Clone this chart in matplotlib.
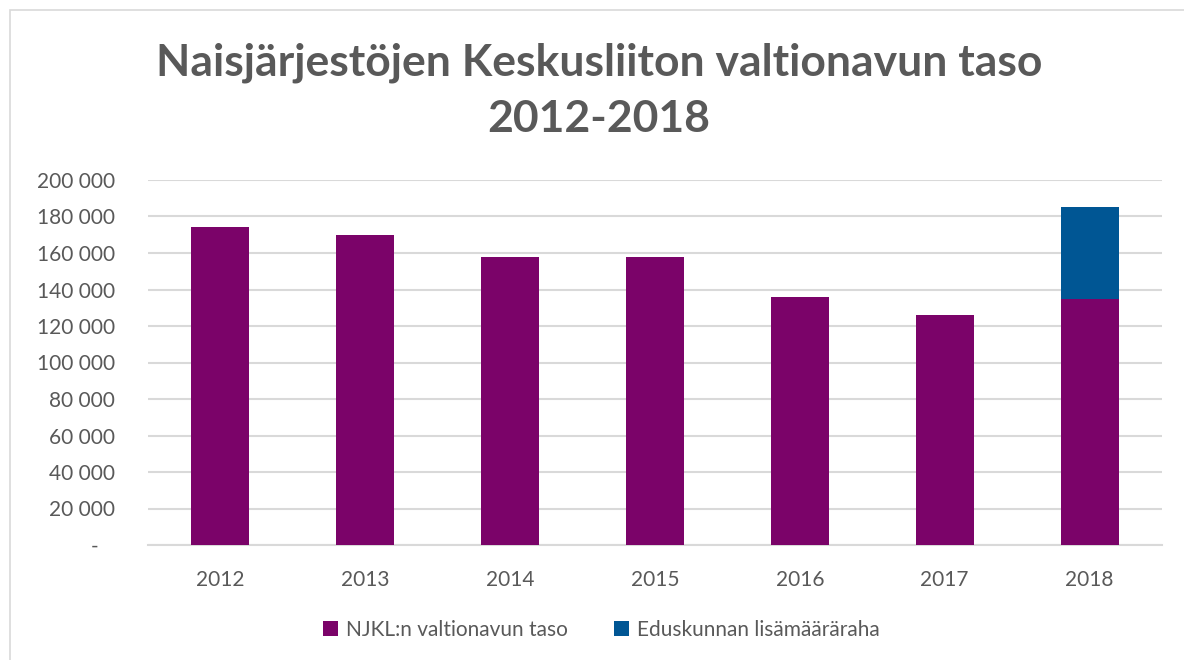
import matplotlib.pyplot as plt
from matplotlib.patches import Rectangle
from matplotlib.ticker import FuncFormatter
import numpy as np

# data
years = ["2012", "2013", "2014", "2015", "2016", "2017", "2018"]
njkl = [174000, 170000, 158000, 158000, 136000, 126000, 135000]
lisa = [0, 0, 0, 0, 0, 0, 50000]
labels = ["NJKL:n valtionavun taso", "Eduskunnan lisämääräraha"]

purple = "#7B0369"
blue = "#005694"
gray_txt = "#595959"

plt.rcParams['font.family'] = ['Lato', 'DejaVu Sans']

fig = plt.figure(figsize=(11.84, 6.6), dpi=100)
# outer chart border
fig.patches.append(Rectangle((10 / 1184, -0.1), 1.2, 1 - 10 / 660 + 0.1,
                             transform=fig.transFigure, fill=False,
                             edgecolor="#d9d9d9", linewidth=1.2))

ax = fig.add_axes([148 / 1184, 1 - 545 / 660, (1162 - 148) / 1184, 365 / 660])
x = np.arange(len(years))
ax.bar(x, njkl, width=0.4, color=purple, label=labels[0], zorder=3)
ax.bar(x, lisa, width=0.4, bottom=njkl, color=blue, label=labels[1], zorder=3)

ax.set_xlim(-0.5, len(years) - 0.5)
ax.set_ylim(0, 200000)
ax.set_yticks(np.arange(0, 200001, 20000))


def fmt(v, pos):
    # accounting style: zero shown as a dash
    if v == 0:
        return "-   "
    return f"{int(v):,}".replace(",", " ")


ax.yaxis.set_major_formatter(FuncFormatter(fmt))
ax.set_xticks(x)
ax.set_xticklabels(years)
ax.tick_params(axis="both", length=0, labelsize=15, colors=gray_txt)
ax.tick_params(axis="x", pad=18)
ax.yaxis.set_tick_params(pad=24)
ax.grid(axis="y", color="#d9d9d9", linewidth=1.5, zorder=0)
for s in ["top", "right", "left"]:
    ax.spines[s].set_visible(False)
ax.spines["bottom"].set_color("#d9d9d9")
ax.spines["bottom"].set_linewidth(1.5)

fig.text(0.506, 1 - 91 / 660, "Naisjärjestöjen Keskusliiton valtionavun taso\n2012-2018",
         ha="center", va="center", fontsize=32, fontweight="bold", color=gray_txt,
         linespacing=1.5)

fig.legend(loc="center", bbox_to_anchor=(0.508, 1 - 630 / 660), ncol=2, frameon=False,
           fontsize=15, labelcolor=gray_txt, handlelength=0.7, handleheight=0.7,
           handletextpad=0.4, columnspacing=2.2)

fig.savefig("out.png", dpi=100)
